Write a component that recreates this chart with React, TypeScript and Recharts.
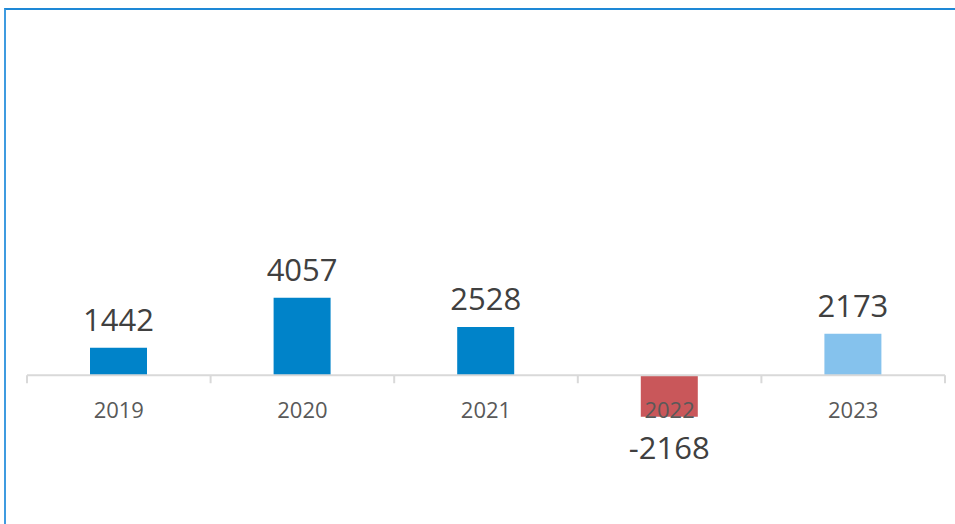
import { BarChart, Bar, XAxis, YAxis, Cell, LabelList, ReferenceLine } from 'recharts';

const years = ['2019', '2020', '2021', '2022', '2023'];
const values = [1442, 4057, 2528, -2168, 2173];
const barColors = ['#0083C9', '#0083C9', '#0083C9', '#C9575A', '#85C2ED'];

const data = years.map((year, i) => ({ year, value: values[i] }));

const CHART_W = 949;
const CHART_H = 514;
const MARGIN = { top: 21, right: 10, left: 21, bottom: 4 };
const X_AXIS_H = 30;
const DOMAIN: [number, number] = [-6000, 18000];
// recharts pushes tick content down by tickSize + tickMargin
const TICK_PAD = 8;

const plotW = CHART_W - MARGIN.left - MARGIN.right;
const plotH = CHART_H - MARGIN.top - MARGIN.bottom - X_AXIS_H;
const band = plotW / years.length;
// distance from the plot bottom up to the zero line
const zeroShift = ((0 - DOMAIN[0]) / (DOMAIN[1] - DOMAIN[0])) * plotH;

const YearTick = (props: any) => {
  const { x, y, payload, index } = props;
  const y0 = y - TICK_PAD - zeroShift;
  return (
    <g>
      <line x1={x - band / 2} x2={x - band / 2} y1={y0} y2={y0 + 8} stroke="#D9D9D9" strokeWidth={2} />
      {index === years.length - 1 && (
        <line x1={x + band / 2} x2={x + band / 2} y1={y0} y2={y0 + 8} stroke="#D9D9D9" strokeWidth={2} />
      )}
      <text x={x} y={y0 + 43} textAnchor="middle" fill="#595959" fontSize={22} fontFamily="'Open Sans', sans-serif">
        {payload.value}
      </text>
    </g>
  );
};

const ValueLabel = (props: any) => {
  const { x, y, width, height, value } = props;
  const top = Math.min(y, y + height);
  const bottom = Math.max(y, y + height);
  const ty = value < 0 ? bottom + 42 : top - 17;
  return (
    <text x={x + width / 2} y={ty} textAnchor="middle" fill="#404040" fontSize={31} fontFamily="'Open Sans', sans-serif">
      {value}
    </text>
  );
};

export default function App() {
  return (
    <div
      style={{
        position: 'fixed',
        left: 4,
        top: 8,
        width: CHART_W,
        height: CHART_H,
        borderTop: '2px solid #1E88D6',
        borderLeft: '2px solid #3F9BE0',
        background: '#fff',
      }}
    >
      <BarChart width={CHART_W} height={CHART_H} data={data} margin={MARGIN}>
        <XAxis dataKey="year" height={X_AXIS_H} axisLine={false} tickLine={false} tick={<YearTick />} interval={0} />
        <YAxis hide domain={DOMAIN} />
        <ReferenceLine y={0} stroke="#D9D9D9" strokeWidth={2} />
        <Bar dataKey="value" barSize={57} isAnimationActive={false}>
          {data.map((d, i) => (
            <Cell key={d.year} fill={barColors[i]} />
          ))}
          <LabelList dataKey="value" content={<ValueLabel />} />
        </Bar>
      </BarChart>
    </div>
  );
}
